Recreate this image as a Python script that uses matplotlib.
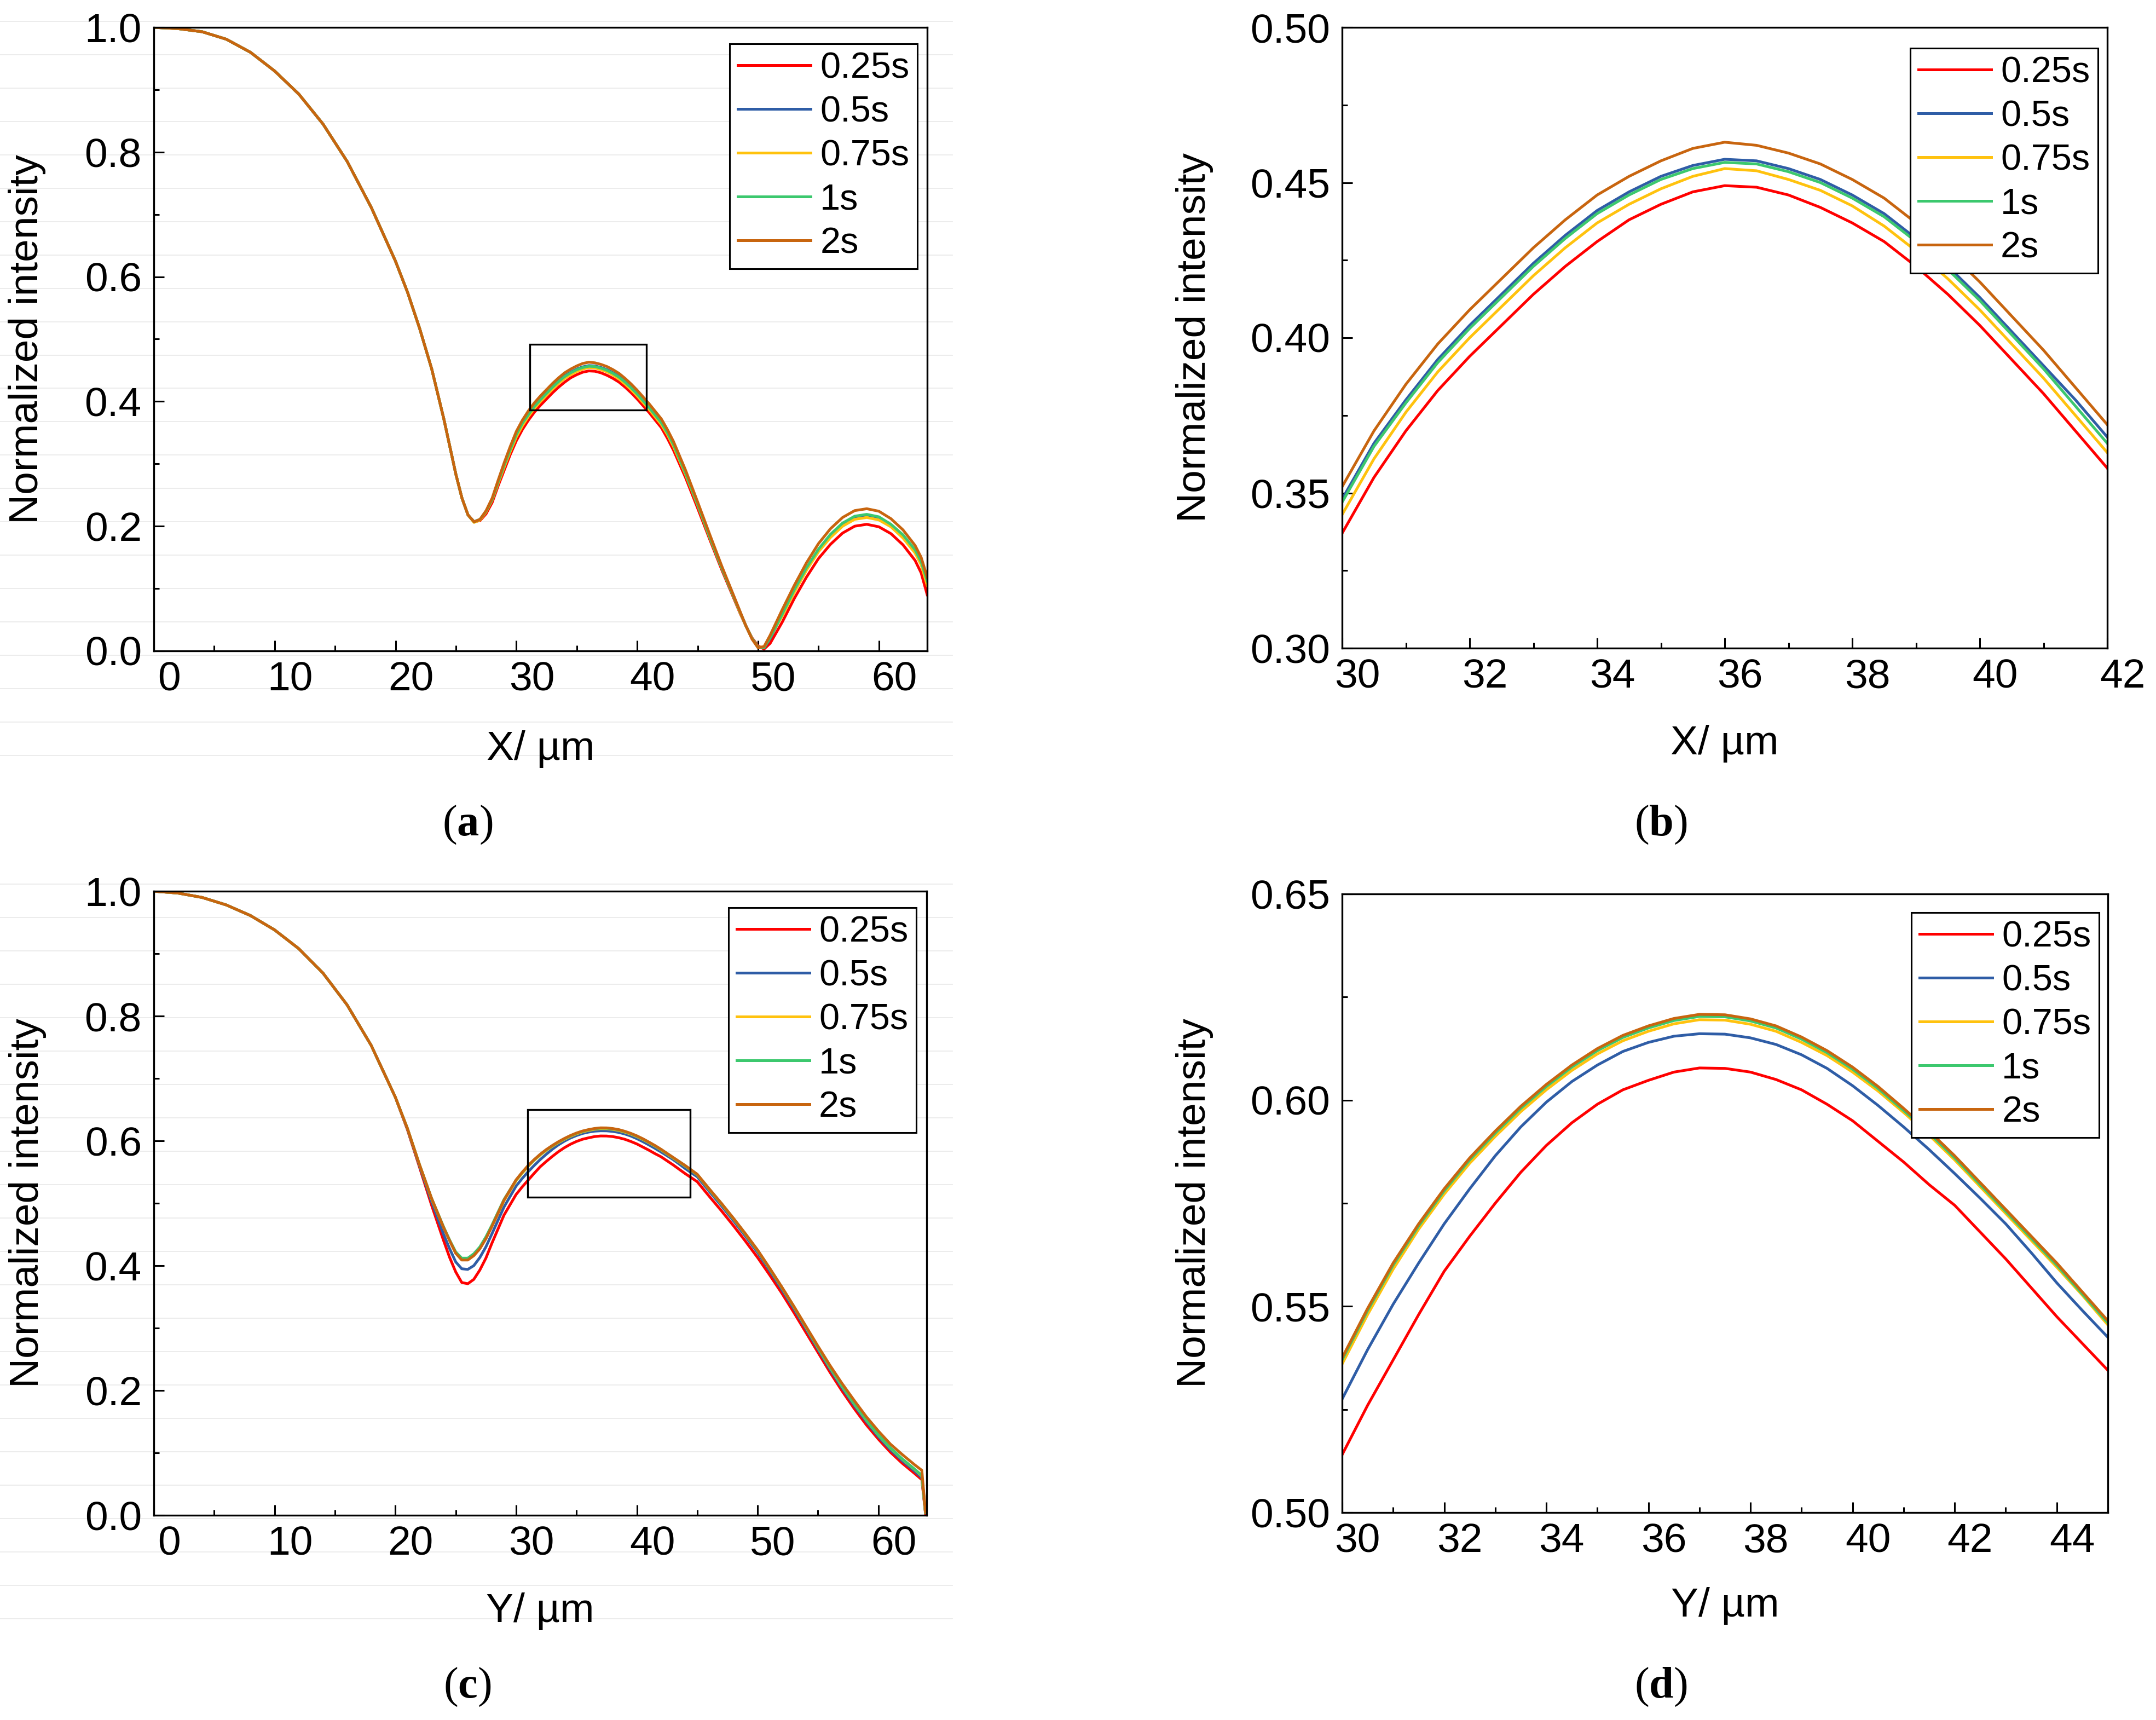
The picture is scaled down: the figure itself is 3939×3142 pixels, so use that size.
import numpy as np
import matplotlib
matplotlib.use("Agg")
import matplotlib.pyplot as plt
from matplotlib.patches import Rectangle
from matplotlib.lines import Line2D
from matplotlib.transforms import ScaledTranslation
from matplotlib.ticker import MultipleLocator, FormatStrFormatter

plt.rcParams['font.family'] = ['Liberation Sans', 'DejaVu Sans']
plt.rcParams['mathtext.fontset'] = 'custom'
plt.rcParams['mathtext.rm'] = 'Liberation Serif'
plt.rcParams['mathtext.bf'] = 'Liberation Serif:bold'

# ---------------- data ----------------
labels = ['0.25s', '0.5s', '0.75s', '1s', '2s']
colors = ['#FF0000', '#2F5DA6', '#FFC20E', '#3CC86E', '#C8650F']

# X profile (panels a, b)
x_pos = [0, 2, 4, 6, 8, 10, 12, 14, 16, 18, 20, 21, 22, 23, 24, 25,
         25.5, 26, 26.5, 27, 27.5, 28, 28.5, 29, 29.5, 30, 30.5, 31, 31.5, 32, 32.5, 33, 33.5, 34,
         34.5, 35, 35.5, 36, 36.5, 37, 37.5, 38, 38.5, 39, 39.5, 40, 40.5, 41, 41.5, 42, 42.5, 43,
         44, 45, 46, 47, 48, 48.5, 49, 49.5, 50, 50.5, 51,
         52, 53, 54, 55, 56, 57, 58, 59, 60, 61, 62, 63, 63.5, 64]

ix_025 = [1.000, 0.998, 0.993, 0.981, 0.960, 0.930, 0.893, 0.845, 0.785, 0.711, 0.625, 0.575, 0.517, 0.452, 0.372, 0.283,
          0.245, 0.218, 0.207, 0.209, 0.220, 0.238, 0.265, 0.290, 0.315, 0.337, 0.355, 0.370, 0.383, 0.394, 0.404, 0.414,
          0.423, 0.431, 0.438, 0.443, 0.447, 0.449, 0.4485, 0.446, 0.442, 0.437, 0.431, 0.423, 0.414, 0.404, 0.393, 0.382,
          0.370, 0.358, 0.341, 0.322,
          0.278, 0.229, 0.179, 0.130, 0.084, 0.061, 0.040, 0.021, 0.008, 0.003, 0.012,
          0.046, 0.084, 0.118, 0.148, 0.171, 0.189, 0.200, 0.203, 0.199, 0.188, 0.170, 0.145, 0.125, 0.090]
ix_05 = [1.000, 0.998, 0.993, 0.981, 0.960, 0.930, 0.893, 0.845, 0.785, 0.711, 0.625, 0.575, 0.517, 0.452, 0.372, 0.283,
         0.245, 0.218, 0.207, 0.211, 0.224, 0.243, 0.271, 0.299, 0.324, 0.348, 0.366, 0.380, 0.393, 0.404, 0.414, 0.424,
         0.433, 0.441, 0.447, 0.452, 0.4555, 0.4575, 0.457, 0.4545, 0.451, 0.446, 0.440, 0.432, 0.423, 0.413, 0.402, 0.391,
         0.380, 0.368, 0.351, 0.332,
         0.286, 0.236, 0.184, 0.134, 0.087, 0.063, 0.040, 0.020, 0.006, 0.005, 0.020,
         0.058, 0.097, 0.132, 0.162, 0.186, 0.204, 0.215, 0.218, 0.214, 0.202, 0.185, 0.161, 0.142, 0.110]
ix_075 = [1.000, 0.998, 0.993, 0.981, 0.960, 0.930, 0.893, 0.845, 0.785, 0.711, 0.625, 0.575, 0.517, 0.452, 0.372, 0.283,
          0.245, 0.218, 0.206, 0.210, 0.223, 0.242, 0.269, 0.295, 0.320, 0.343, 0.361, 0.376, 0.389, 0.400, 0.410, 0.420,
          0.429, 0.437, 0.443, 0.448, 0.452, 0.4545, 0.4538, 0.451, 0.4475, 0.4425, 0.436, 0.428, 0.419, 0.409, 0.398, 0.387,
          0.375, 0.363, 0.347, 0.328,
          0.283, 0.234, 0.182, 0.133, 0.086, 0.062, 0.040, 0.020, 0.006, 0.006, 0.022,
          0.056, 0.094, 0.129, 0.159, 0.182, 0.200, 0.211, 0.214, 0.210, 0.199, 0.181, 0.157, 0.138, 0.105]
ix_1 = [1.000, 0.998, 0.993, 0.981, 0.960, 0.930, 0.893, 0.845, 0.785, 0.711, 0.625, 0.575, 0.517, 0.452, 0.372, 0.283,
        0.245, 0.218, 0.207, 0.211, 0.224, 0.243, 0.271, 0.298, 0.323, 0.347, 0.365, 0.379, 0.392, 0.403, 0.413, 0.423,
        0.432, 0.440, 0.446, 0.451, 0.4545, 0.4565, 0.456, 0.4535, 0.450, 0.445, 0.439, 0.431, 0.422, 0.412, 0.401, 0.390,
        0.378, 0.366, 0.350, 0.331,
        0.285, 0.235, 0.183, 0.133, 0.086, 0.063, 0.040, 0.020, 0.006, 0.005, 0.021,
        0.059, 0.098, 0.133, 0.163, 0.187, 0.205, 0.216, 0.219, 0.215, 0.203, 0.186, 0.162, 0.143, 0.112]
ix_2 = [1.000, 0.998, 0.993, 0.981, 0.960, 0.930, 0.893, 0.845, 0.785, 0.711, 0.625, 0.575, 0.517, 0.452, 0.372, 0.283,
        0.245, 0.218, 0.207, 0.211, 0.225, 0.245, 0.274, 0.302, 0.328, 0.352, 0.370, 0.385, 0.398, 0.409, 0.419, 0.429,
        0.438, 0.446, 0.452, 0.457, 0.461, 0.463, 0.462, 0.4595, 0.456, 0.451, 0.445, 0.437, 0.428, 0.418, 0.407, 0.396,
        0.384, 0.372, 0.355, 0.336,
        0.290, 0.239, 0.187, 0.136, 0.088, 0.064, 0.040, 0.019, 0.005, 0.007, 0.025,
        0.066, 0.105, 0.141, 0.172, 0.196, 0.214, 0.225, 0.228, 0.224, 0.212, 0.194, 0.169, 0.150, 0.118]

# Y profile (panels c, d)
y_pos = [0, 2, 4, 6, 8, 10, 12, 14, 16, 18, 20, 21, 22, 23, 24,
         24.5, 25, 25.5, 26, 26.5, 27, 27.5, 28, 29,
         30, 30.5, 31, 31.5, 32, 32.5, 33, 33.5, 34, 34.5, 35, 35.5, 36, 36.5, 37, 37.5,
         38, 38.5, 39, 39.5, 40, 40.5, 41, 41.5, 42, 42.5, 43, 43.5, 44, 44.5, 45,
         46, 47, 48, 49, 50, 51, 52, 53, 54, 55, 56, 57, 58, 59, 60, 61, 62, 63, 63.6, 63.9]

iy_025 = [1.000, 0.997, 0.990, 0.978, 0.961, 0.938, 0.908, 0.869, 0.818, 0.753, 0.670, 0.618, 0.558, 0.497, 0.440,
          0.413, 0.390, 0.373, 0.371, 0.378, 0.393, 0.412, 0.436, 0.481,
          0.514, 0.526, 0.537, 0.548, 0.5585, 0.567, 0.575, 0.5825, 0.589, 0.5945, 0.599, 0.6025, 0.6048, 0.6068,
          0.6078, 0.6077, 0.6068, 0.605, 0.6025, 0.599, 0.595, 0.590, 0.585, 0.5795, 0.5745, 0.568, 0.5615, 0.5545,
          0.5475, 0.541, 0.5345,
          0.511, 0.488, 0.464, 0.439, 0.413, 0.385, 0.356, 0.325, 0.293, 0.261, 0.229, 0.199, 0.171, 0.145, 0.122,
          0.101, 0.083, 0.067, 0.057, 0.003]
iy_05 = [1.000, 0.997, 0.990, 0.978, 0.961, 0.938, 0.908, 0.869, 0.818, 0.753, 0.670, 0.619, 0.560, 0.503, 0.450,
         0.427, 0.406, 0.395, 0.394, 0.400, 0.413, 0.430, 0.451, 0.494,
         0.5275, 0.5395, 0.5505, 0.5605, 0.570, 0.5785, 0.5865, 0.5935, 0.5995, 0.6045, 0.6085, 0.6118, 0.614, 0.6155,
         0.6161, 0.616, 0.6151, 0.6135, 0.611, 0.6077, 0.6035, 0.5987, 0.5935, 0.588, 0.5822, 0.5762, 0.570, 0.563,
         0.5557, 0.549, 0.5425,
         0.519, 0.496, 0.472, 0.447, 0.421, 0.392, 0.362, 0.331, 0.299, 0.266, 0.234, 0.204, 0.176, 0.150, 0.126,
         0.105, 0.087, 0.071, 0.060, 0.004]
iy_075 = [1.000, 0.997, 0.990, 0.978, 0.961, 0.938, 0.908, 0.869, 0.818, 0.753, 0.670, 0.620, 0.562, 0.507, 0.461,
          0.440, 0.420, 0.410, 0.410, 0.417, 0.428, 0.444, 0.463, 0.504,
          0.536, 0.548, 0.559, 0.5687, 0.5772, 0.5847, 0.5912, 0.5972, 0.6025, 0.6072, 0.6112, 0.6144, 0.6167, 0.6185,
          0.6195, 0.6194, 0.6184, 0.6167, 0.614, 0.6108, 0.6068, 0.6022, 0.597, 0.5915, 0.5855, 0.579, 0.5725, 0.566,
          0.5595, 0.5527, 0.5455,
          0.522, 0.499, 0.475, 0.450, 0.424, 0.395, 0.365, 0.334, 0.3015, 0.2685, 0.2365, 0.2065, 0.1785, 0.1525,
          0.1285, 0.1075, 0.0895, 0.0735, 0.063, 0.004]
iy_1 = [1.000, 0.997, 0.990, 0.978, 0.961, 0.938, 0.908, 0.869, 0.818, 0.753, 0.670, 0.620, 0.562, 0.508, 0.462,
        0.441, 0.422, 0.412, 0.412, 0.419, 0.430, 0.446, 0.465, 0.506,
        0.537, 0.549, 0.560, 0.5695, 0.578, 0.5855, 0.592, 0.598, 0.6033, 0.608, 0.612, 0.6152, 0.6175, 0.6193,
        0.6203, 0.6202, 0.6192, 0.6175, 0.6148, 0.6115, 0.6075, 0.6028, 0.5975, 0.592, 0.586, 0.5795, 0.573, 0.5665,
        0.560, 0.553, 0.546,
        0.5225, 0.4995, 0.4755, 0.4505, 0.4245, 0.3955, 0.3655, 0.3345, 0.302, 0.269, 0.237, 0.207, 0.179, 0.153,
        0.129, 0.108, 0.090, 0.074, 0.064, 0.004]
iy_2 = [1.000, 0.997, 0.990, 0.978, 0.961, 0.938, 0.908, 0.869, 0.818, 0.753, 0.670, 0.620, 0.562, 0.508, 0.461,
        0.440, 0.420, 0.409, 0.409, 0.416, 0.427, 0.443, 0.463, 0.505,
        0.5375, 0.5495, 0.5605, 0.570, 0.5785, 0.586, 0.5925, 0.5985, 0.6038, 0.6085, 0.6125, 0.6157, 0.618, 0.6198,
        0.6208, 0.6207, 0.6197, 0.618, 0.6153, 0.612, 0.608, 0.6033, 0.598, 0.5925, 0.5865, 0.580, 0.5735, 0.567,
        0.5605, 0.5535, 0.5465,
        0.523, 0.500, 0.476, 0.451, 0.425, 0.396, 0.366, 0.335, 0.303, 0.271, 0.240, 0.211, 0.184, 0.158, 0.135,
        0.114, 0.097, 0.081, 0.072, 0.005]

x_series = [ix_025, ix_05, ix_075, ix_1, ix_2]
y_series = [iy_025, iy_05, iy_075, iy_1, iy_2]

# zoom boxes drawn in (a) and (c): (x0, y0, width, height)
box_a = (31.1, 0.386, 9.65, 0.106)
box_c = (30.95, 0.510, 13.45, 0.140)

# ---------------- figure ----------------
W, H = 3939, 3142
fig = plt.figure(figsize=(W / 100, H / 100), dpi=100)

# faint horizontal rules behind the left panels (scan artefact in the original)
for yy in list(39 + 60.95 * np.arange(23)) + list(1614.7 + 61 * np.arange(23)):
    fig.add_artist(Line2D([0, 1740 / W], [1 - yy / H] * 2, color='#ebebeb', lw=1.3, zorder=-5))


def panel(rect, xs, series, xlim, ylim, xmaj, xmin, ymaj, ymin, yfmt,
          xlabel, ylab_x, xlab_y, leg_anchor, box=None):
    ax = fig.add_axes([rect[0] / W, 1 - rect[3] / H, (rect[2] - rect[0]) / W, (rect[3] - rect[1]) / H])
    ax.set_facecolor('none')
    handles = []
    for ys, c in zip(series, colors):
        h, = ax.plot(xs, ys, color=c, lw=3.6, solid_joinstyle='round')
        handles.append(h)
    ax.set_xlim(*xlim)
    ax.set_ylim(*ylim)
    ax.set_xticks(np.arange(xlim[0], xlim[1] + 0.001, xmaj))
    ax.set_yticks(np.arange(ylim[0], ylim[1] + 0.0001, ymaj))
    ax.xaxis.set_minor_locator(MultipleLocator(xmin))
    ax.yaxis.set_minor_locator(MultipleLocator(ymin))
    ax.yaxis.set_major_formatter(FormatStrFormatter(yfmt))
    ax.xaxis.set_major_formatter(FormatStrFormatter('%d'))
    ax.tick_params(which='both', direction='in', top=False, right=False, width=2.2, labelsize=54)
    ax.tick_params(which='major', length=14)
    ax.tick_params(which='minor', length=7)
    ax.tick_params(axis='y', pad=16)
    ax.tick_params(axis='x', pad=13)
    for s in ax.spines.values():
        s.set_linewidth(2.4)
    off = ScaledTranslation(0.28, 0, fig.dpi_scale_trans)
    for lbl in ax.get_xticklabels():
        lbl.set_transform(lbl.get_transform() + off)

    ax.set_ylabel('Normalized intensity', fontsize=54)
    ax.yaxis.set_label_coords(ylab_x, 0.5)
    ax.yaxis.label.set_va('center')
    ax.set_xlabel(xlabel, fontsize=54)
    ax.xaxis.set_label_coords(0.5, xlab_y)
    ax.xaxis.label.set_va('center')

    if box is not None:
        ax.add_patch(Rectangle(box[:2], box[2], box[3], fill=False, ec='black', lw=2.4, zorder=5))

    leg = ax.legend(handles, labels, loc='upper right', bbox_to_anchor=leg_anchor, fontsize=48,
                    frameon=True, fancybox=False, edgecolor='black', framealpha=1,
                    borderaxespad=0, handlelength=2.0, handletextpad=0.25,
                    borderpad=0.22, labelspacing=0.27)
    leg.get_frame().set_linewidth(2.2)
    return ax


panel((281, 50, 1694, 1189), x_pos, x_series, (0, 64), (0, 1.0), 10, 5, 0.2, 0.1, '%.1f',
      'X/ µm', -0.1635, -0.158, (0.9873, 0.9737), box_a)
panel((2452, 50, 3850, 1184), x_pos, x_series, (30, 42), (0.30, 0.50), 2, 1, 0.05, 0.025, '%.2f',
      'X/ µm', -0.1925, -0.154, (0.9878, 0.9665))
panel((281, 1628, 1693, 2768), y_pos, y_series, (0, 64), (0, 1.0), 10, 5, 0.2, 0.1, '%.1f',
      'Y/ µm', -0.1635, -0.154, (0.9865, 0.9737), box_c)
panel((2452, 1633, 3851, 2763), y_pos, y_series, (30, 45), (0.50, 0.65), 2, 1, 0.05, 0.025, '%.2f',
      'Y/ µm', -0.1925, -0.151, (0.9886, 0.970))

for letter, px, py in [('a', 854, 1507), ('b', 3034, 1507), ('c', 854, 3082), ('d', 3034, 3082)]:
    fig.text(px / W, 1 - py / H, r'($\mathbf{%s}$)' % letter, family='Liberation Serif',
             fontsize=58, ha='center', va='center')

fig.savefig('out.png', dpi=100)
